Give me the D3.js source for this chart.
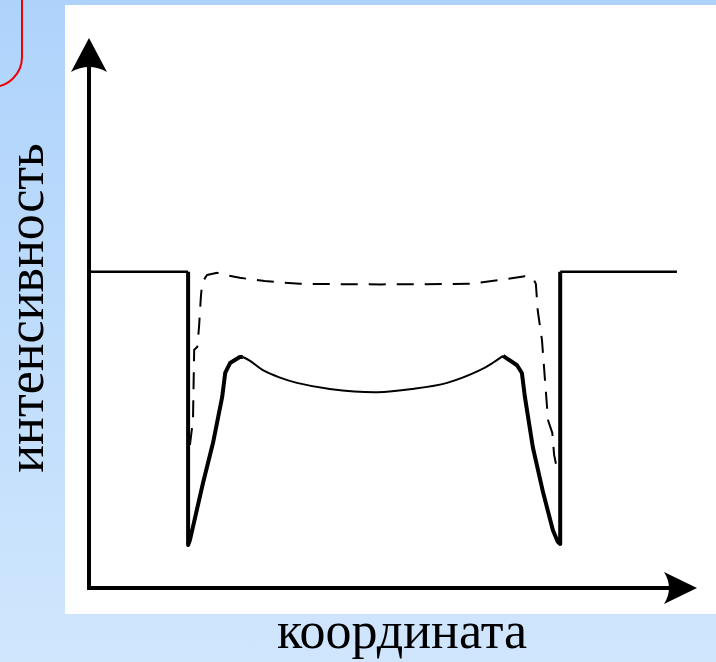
<!DOCTYPE html>
<html>
<head>
<meta charset="utf-8">
<script src="https://cdn.jsdelivr.net/npm/d3@7"></script>
<style>
  html, body { margin: 0; padding: 0; }
  body { width: 716px; height: 662px; overflow: hidden; }
</style>
</head>
<body>
<div id="chart"></div>
<script>
const width = 716
const height = 662

// Datos (unidades arbitrarias: coordenada 0-100, intensidad 0-100)
const refLeft = [[0, 57.5], [16.3, 57.5]]
const refRight = [[77.5, 57.5], [96.7, 57.5]]

// perfil sólido: pared izquierda, arco y pared derecha
const wallLeft = [[16.3, 57.5], [16.3, 7.8], [16.6, 8.7], [18.75, 19.1], [20.4, 26.4],
  [21.9, 34.7], [22.4, 39.1], [23.2, 40.9], [24.8, 42.0], [25.3, 42.0]]
const arc = [[25.3, 42.0], [26.5, 41.3], [28.6, 39.6], [31.3, 38.3], [34.2, 37.3],
  [39.6, 36.2], [47.4, 35.6], [53.3, 36.2], [58.9, 37.3], [64.3, 39.6], [66.5, 41.0], [68.1, 42.2]]
const wallRight = [[68.1, 42.2], [70.4, 40.5], [71.2, 39.1], [71.7, 34.7], [73.0, 25.6],
  [74.7, 17.3], [76.3, 10.5], [77.1, 8.4], [77.5, 8.0], [77.5, 57.5]]

// perfil discontinuo
const dashed = [[16.6, 26.0], [17.1, 30.5], [17.3, 43.3], [17.8, 43.8], [18.1, 47.5],
  [18.4, 52.9], [18.6, 55.5], [19.4, 56.9], [21.1, 57.3], [22.4, 56.9], [24.8, 56.4],
  [28.9, 55.8], [34.7, 55.3], [48.0, 55.2], [62.7, 55.3], [67.6, 56.0], [71.7, 56.7], [73.0, 56.4],
  [73.5, 55.3], [73.8, 50.5], [74.5, 45.1], [75.0, 37.8], [75.5, 30.5], [76.2, 28.2],
  [76.5, 24.2], [77.0, 21.5]]

const xLabel = "координата"
const yLabel = "интенсивность"

const svg = d3.select("#chart")
  .append("svg")
  .attr("width", width)
  .attr("height", height)

// fondo degradado
const defs = svg.append("defs")
const grad = defs.append("linearGradient")
  .attr("id", "bg").attr("x1", 0).attr("y1", 0).attr("x2", 0).attr("y2", 1)
grad.append("stop").attr("offset", "0%").attr("stop-color", "#aed3fb")
grad.append("stop").attr("offset", "100%").attr("stop-color", "#d0e6fd")

svg.append("rect").attr("width", width).attr("height", height).attr("fill", "url(#bg)")

// recuadro rojo de la esquina
svg.append("rect")
  .attr("x", -60).attr("y", -60)
  .attr("width", 82).attr("height", 147)
  .attr("rx", 30).attr("ry", 30)
  .attr("fill", "none")
  .attr("stroke", "#f00000")
  .attr("stroke-width", 2)

// panel blanco
svg.append("rect")
  .attr("x", 65).attr("y", 5)
  .attr("width", width - 65).attr("height", 609)
  .attr("fill", "#ffffff")

// Escalas
const x = d3.scaleLinear().domain([0, 100]).range([89, 697])
const y = d3.scaleLinear().domain([0, 100]).range([588, 38])

const line = d3.line().x(d => x(d[0])).y(d => y(d[1]))
const smooth = d3.line().x(d => x(d[0])).y(d => y(d[1])).curve(d3.curveCatmullRom)

const g = svg.append("g").attr("fill", "none").attr("stroke", "#000")

// Ejes con flechas
g.append("line")
  .attr("x1", x(0)).attr("y1", y(0))
  .attr("x2", x(0)).attr("y2", y(100) + 14)
  .attr("stroke-width", 4)
g.append("line")
  .attr("x1", x(0) - 2).attr("y1", y(0))
  .attr("x2", x(100) - 14).attr("y2", y(0))
  .attr("stroke-width", 4)

const ax = x(0), ay = y(100)
svg.append("path")
  .attr("d", `M${ax},${ay} L${ax + 18},${ay + 34} Q${ax},${ay + 24} ${ax - 18},${ay + 34} Z`)
  .attr("fill", "#000")
const bx = x(100), by = y(0)
svg.append("path")
  .attr("d", `M${bx},${by} L${bx - 33},${by - 16} Q${bx - 23},${by} ${bx - 33},${by + 16} Z`)
  .attr("fill", "#000")

// nivel de referencia
g.append("path").attr("d", line(refLeft)).attr("stroke-width", 2.5)
g.append("path").attr("d", line(refRight)).attr("stroke-width", 2.5)

// perfil discontinuo
g.append("path")
  .attr("d", line(dashed))
  .attr("stroke-width", 2)
  .attr("stroke-linejoin", "round")
  .attr("stroke-dasharray", "17,11")

// perfil sólido
g.append("path").attr("d", line(wallLeft)).attr("stroke-width", 4).attr("stroke-linejoin", "round")
g.append("path").attr("d", smooth(arc)).attr("stroke-width", 2)
g.append("path").attr("d", line(wallRight)).attr("stroke-width", 4).attr("stroke-linejoin", "round")

// Etiquetas
svg.append("text")
  .attr("x", 402)
  .attr("y", 648)
  .attr("text-anchor", "middle")
  .style("font-family", "Liberation Serif")
  .style("font-size", "52px")
  .attr("fill", "#000")
  .text(xLabel)

svg.append("text")
  .attr("transform", "translate(43,308) rotate(-90)")
  .attr("text-anchor", "middle")
  .style("font-family", "Liberation Serif")
  .style("font-size", "52px")
  .attr("fill", "#000")
  .text(yLabel)
</script>
</body>
</html>
